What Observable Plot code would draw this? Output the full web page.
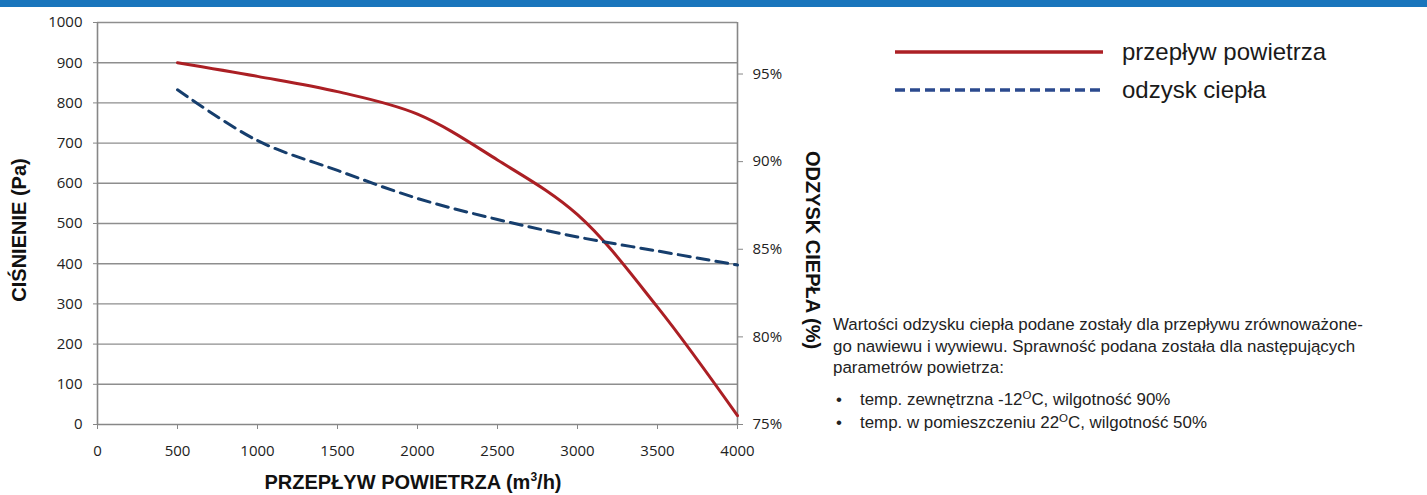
<!DOCTYPE html>
<html>
<head>
<meta charset="utf-8">
<script src="https://cdn.jsdelivr.net/npm/d3@7"></script>
<script src="https://cdn.jsdelivr.net/npm/@observablehq/plot@0.6"></script>
<style>
  html, body { margin: 0; padding: 0; background: #fff; }
  #page { position: relative; width: 1427px; height: 495px; overflow: hidden; background: #fff; font-family: "Liberation Sans", Arial, sans-serif; color: #1a1a1a; }
  #band { position: absolute; left: 0; top: 0; width: 1427px; height: 7px; background: #1a75bc; z-index: 5; }
  #chart { position: absolute; left: 0; top: 0; }
  .title { position: absolute; font-weight: bold; font-size: 20px; color: #111; white-space: nowrap; }
  .legtxt { position: absolute; font-size: 24px; line-height: 24px; white-space: nowrap; color: #1a1a1a; }
  .note { position: absolute; font-size: 16.9px; line-height: 21.7px; white-space: nowrap; color: #222; }
  .note sup { font-size: 11.5px; vertical-align: 6px; line-height: 0; }
</style>
</head>
<body>
<div id="page">
  <div id="chart"></div>
  <div id="band"></div>
  <div class="title" id="ytitle" style="left:19px; top:230px; transform: translate(-50%,-50%) rotate(-90deg);">CIŚNIENIE (Pa)</div>
  <div class="title" id="y2title" style="left:812px; top:250px; transform: translate(-50%,-50%) rotate(90deg);">ODZYSK CIEPŁA (%)</div>
  <div class="title" id="xtitle" style="left:413px; top:482px; transform: translate(-50%,-50%);">PRZEPŁYW POWIETRZA (m<sup style="font-size:12px">3</sup>/h)</div>

  <svg style="position:absolute; left:895px; top:40px;" width="210" height="60">
    <line x1="0" x2="208" y1="12" y2="12" stroke="#ac2025" stroke-width="3.5"></line>
    <line x1="0" x2="208" y1="50" y2="50" stroke="#2b4a8e" stroke-width="3.5" stroke-dasharray="10,5"></line>
  </svg>
  <div class="legtxt" style="left:1122px; top:40px;">przepływ powietrza</div>
  <div class="legtxt" style="left:1122px; top:78px;">odzysk ciepła</div>

  <div class="note" style="left:833px; top:314px;">Wartości odzysku ciepła podane zostały dla przepływu zrównoważone-<br>go nawiewu i wywiewu. Sprawność podana została dla następujących<br>parametrów powietrza:</div>
  <div class="note" style="left:836px; top:389px;">•</div>
  <div class="note" style="left:860px; top:389px;">temp. zewnętrzna -12<sup>O</sup>C, wilgotność 90%</div>
  <div class="note" style="left:836px; top:412px;">•</div>
  <div class="note" style="left:860px; top:412px;">temp. w pomieszczeniu 22<sup>O</sup>C, wilgotność 50%</div>
</div>
<script>
// ---- data ----
const flow = [500, 1000, 1500, 2000, 2500, 3000, 3500, 4000];
const pressure = [900, 866, 828, 772, 658, 522, 292, 22];
const recoveryFlow = [500, 1000, 1500, 2000, 2500, 3000, 3500, 4000];
const recovery = [94.1, 91.2, 89.5, 87.9, 86.7, 85.7, 84.9, 84.1];
const xTicks = [0, 500, 1000, 1500, 2000, 2500, 3000, 3500, 4000];
const yTicks = [0, 100, 200, 300, 400, 500, 600, 700, 800, 900, 1000];
const pctTicks = [75, 80, 85, 90, 95];
const pctDomain = [75, 97.94];

// ---- build ----
const pressureData = flow.map((f, i) => ({flow: f, value: pressure[i]}));
const recoveryData = recoveryFlow.map((f, i) => ({flow: f, value: recovery[i]}));
const pct = d3.scaleLinear().domain(pctDomain).range([0, 1000]);
const axisGray = "#878787";

const chart = Plot.plot({
  width: 820,
  height: 495,
  marginLeft: 97,
  marginRight: 83,
  marginTop: 22,
  marginBottom: 71,
  x: {domain: [0, 4000]},
  y: {domain: [0, 1000]},
  style: {fontFamily: "'Open Sans', sans-serif", fontSize: "15px", color: "#222", background: "transparent", overflow: "visible"},
  marks: [
    Plot.gridY(yTicks.filter(v => v > 0), {stroke: "#8e8e8e", strokeOpacity: 1, strokeWidth: 1.4}),
    Plot.ruleY([0], {stroke: axisGray, strokeWidth: 1.6}),
    Plot.ruleX([0], {stroke: axisGray, strokeWidth: 1.6}),
    Plot.ruleX([4000], {stroke: axisGray, strokeWidth: 1.6}),
    Plot.axisX(xTicks, {anchor: "bottom", tickSize: 5, tickPadding: 16, stroke: axisGray, fill: "#222", label: null, tickFormat: d => String(d)}),
    Plot.axisY(yTicks, {anchor: "left", tickSize: 4, tickPadding: 11, stroke: axisGray, fill: "#222", label: null, tickFormat: d => String(d)}),
    Plot.axisY(pctTicks.map(p => pct(p)), {anchor: "right", tickSize: 5, tickPadding: 10, stroke: axisGray, fill: "#222", label: null, tickFormat: v => Math.round(pct.invert(v)) + "%"}),
    Plot.line(pressureData, {x: "flow", y: "value", stroke: "#ab1f24", strokeWidth: 3, curve: "catmull-rom"}),
    Plot.line(recoveryData, {x: "flow", y: d => pct(d.value), stroke: "#163e6d", strokeWidth: 3, strokeDasharray: "12,7", curve: "catmull-rom"})
  ]
});
document.getElementById("chart").appendChild(chart);
</script>
</body>
</html>
